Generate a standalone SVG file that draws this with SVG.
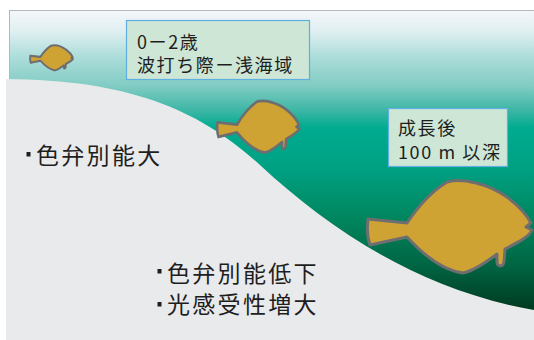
<svg xmlns="http://www.w3.org/2000/svg" xmlns:xlink="http://www.w3.org/1999/xlink" width="534" height="340" viewBox="0 0 534 340">
  <style>
    .lbl { fill: #cde6d5; stroke: #5fb0e0; stroke-width: 1.2; }
    .lbltxt { font-family: "Noto Sans CJK JP", "Noto Sans", sans-serif; font-size: 18px; letter-spacing: 1.6px; fill: #1e1e1e; }
    .note { font-family: "Noto Sans CJK JP", "Noto Sans", sans-serif; font-size: 23px; letter-spacing: 2.3px; fill: #1e1e1e; }
    .bullet { fill: #1e1e1e; }
    .fish { fill: #cfa234; stroke: #6e6e70; stroke-linejoin: round; }
  </style>
  <defs>
    <linearGradient id="sea" gradientUnits="userSpaceOnUse" x1="0" y1="10" x2="0" y2="312">
      <stop offset="0" stop-color="#f5f7fa"/>
      <stop offset="0.07" stop-color="#e0eff1"/>
      <stop offset="0.15" stop-color="#afdedb"/>
      <stop offset="0.25" stop-color="#82ccc4"/>
      <stop offset="0.33" stop-color="#3fb7a6"/>
      <stop offset="0.39" stop-color="#00ab8f"/>
      <stop offset="0.53" stop-color="#00a082"/>
      <stop offset="0.7" stop-color="#00845c"/>
      <stop offset="0.85" stop-color="#006442"/>
      <stop offset="1" stop-color="#00381f"/>
    </linearGradient>
    <!-- flatfish outline, head to the right, drawn in a 165 x 94 box -->
    <path id="flatfish" d="M40,44 C48,32 62,14 80,3 C95,-1 120,4 140,18 C152,27 160,36 164,44 L159,48 L165,51 C162,58 150,64 138,70 L137,83 C136,88 131,88 130,84 L130,75 C118,84 106,92 96,94 C80,92 62,82 40,58 L3,66 C0,58 0,48 1,40 Z"/>
  </defs>

  <!-- sea background -->
  <rect x="9.5" y="10.5" width="530" height="310" fill="url(#sea)" stroke="#b6b6be" stroke-width="1"/>

  <!-- sea floor / shore -->
  <path d="M6,79 C130,80 200,110 260,165 C330,230 420,290 534,310 L534,340 L6,340 Z" fill="#e9eaec"/>

  <g id="fish-juvenile">
    <use xlink:href="#flatfish" class="fish" transform="translate(30,45) scale(0.26,0.27)" stroke-width="7.5"/>
  </g>
  <g id="fish-young">
    <use xlink:href="#flatfish" class="fish" transform="translate(217,100) scale(0.5,0.56)" stroke-width="5"/>
  </g>
  <g id="fish-adult">
    <use xlink:href="#flatfish" class="fish" transform="translate(367,179)" stroke-width="3"/>
  </g>

  <g id="label-shallow">
    <rect class="lbl" x="126.5" y="20.5" width="183" height="59"/>
    <text class="lbltxt" x="137" y="48.5">0ー2歳</text>
    <text class="lbltxt" x="137" y="72">波打ち際ー浅海域</text>
  </g>

  <g id="label-deep">
    <rect class="lbl" x="388.5" y="108.5" width="119" height="58"/>
    <text class="lbltxt" x="398" y="135">成長後</text>
    <text class="lbltxt" x="398" y="159">100 m 以深</text>
  </g>

  <g id="note-young">
    <rect class="bullet" x="26.5" y="152" width="4" height="4.5"/>
    <text class="note" x="36" y="163.5">色弁別能大</text>
  </g>

  <g id="note-adult">
    <rect class="bullet" x="157.5" y="269" width="4" height="4.5"/>
    <text class="note" x="167" y="281.5">色弁別能低下</text>
    <rect class="bullet" x="157.5" y="302" width="4" height="4.5"/>
    <text class="note" x="167" y="312.5">光感受性増大</text>
  </g>

  <g id="connectors"/>
</svg>
